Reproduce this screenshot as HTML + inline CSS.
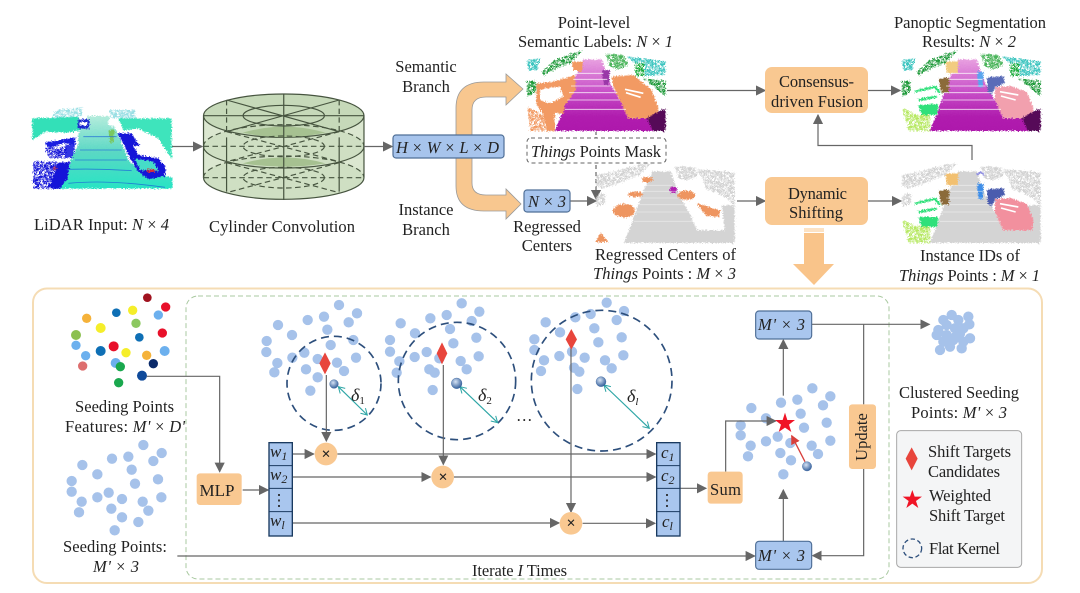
<!DOCTYPE html>
<html><head><meta charset="utf-8"><style>
html,body{margin:0;padding:0;background:#fff}
svg{display:block}
text{font-family:"Liberation Serif",serif;font-size:16.5px;fill:#222}
.i{font-style:italic}
</style></head><body>
<svg width="1080" height="593" viewBox="0 0 1080 593" xmlns="http://www.w3.org/2000/svg">
<defs>
<marker id="a" viewBox="0 0 9 9" refX="8" refY="4.5" markerWidth="8.500" markerHeight="8.500" orient="auto-start-reverse"><path d="M0 0L9 4.500L0 9z" fill="#666"/></marker>
<marker id="t" viewBox="0 0 8 8" refX="7" refY="4" markerWidth="7" markerHeight="7" orient="auto-start-reverse"><path d="M1 .5L7 4L1 7.500" fill="none" stroke="#2ea6a6" stroke-width="1"/></marker>
<marker id="r" viewBox="0 0 9 9" refX="8" refY="4.500" markerWidth="7" markerHeight="7" orient="auto"><path d="M0 0L9 4.500L0 9z" fill="#d8403c"/></marker>
<radialGradient id="b" cx=".4" cy=".35" r=".7"><stop offset="0" stop-color="#d5e2f4"/><stop offset="1" stop-color="#2b5896"/></radialGradient>
<linearGradient id="mg" x1="0" y1="0" x2="0" y2="1"><stop offset="0" stop-color="#e8a0e0"/><stop offset=".45" stop-color="#c850c8"/><stop offset=".8" stop-color="#b01cae"/><stop offset="1" stop-color="#ae18ac"/></linearGradient>
<linearGradient id="lg" x1="0" y1="0" x2="0" y2="1"><stop offset="0" stop-color="#b4ecdc"/><stop offset=".5" stop-color="#5ad8c4"/><stop offset="1" stop-color="#28e4c4"/></linearGradient>
<filter id="j" x="-3%" y="-3%" width="106%" height="106%" color-interpolation-filters="sRGB"><feTurbulence type="fractalNoise" baseFrequency=".25" numOctaves="2" seed="4"/><feDisplacementMap in="SourceGraphic" scale="15" xChannelSelector="R" yChannelSelector="G"/><feGaussianBlur stdDeviation=".9"/></filter>
<filter id="h" x="-3%" y="-3%" width="106%" height="106%" color-interpolation-filters="sRGB"><feTurbulence type="fractalNoise" baseFrequency=".17" numOctaves="2" seed="7"/><feColorMatrix type="matrix" values="0 0 0 0 0  0 0 0 0 0  0 0 0 0 0  -9 0 0 0 5.400" result="m"/><feComposite in="SourceGraphic" in2="m" operator="in"/></filter>
<g id="whitelines" stroke="#fff" stroke-width="2.500" opacity=".85"><path d="M168 70H250M160 88H262M153 108H272M147 128H292M142 150H300M135 178H318"/></g>
<g id="road"><polygon points="105,243 135,165 160,95 190,28 245,28 270,100 300,150 325,205 380,205 437,243"/></g>
<g id="leftgreens" filter="url(#h)"><polygon points="20,95 50,92 48,128 22,142" fill="#1f9a3a"/><polygon points="65,65 105,30 150,12 188,2 150,40 100,60 72,78" fill="#1f9a3a"/><polygon points="20,30 62,24 52,60 24,62" fill="#3ec5c0"/><polygon points="255,10 310,14 326,45 292,60 270,50" fill="#4ab45a"/><polygon points="320,20 437,34 437,75 372,78 345,40" fill="#3ec5c0"/><rect x="345" y="40" width="28" height="38" fill="#14a834"/><polygon points="370,85 437,92 437,140 400,110" fill="#1f9a3a"/></g>
<g id="grayback" fill="#d4d4d4"><polygon points="300,205 437,205 437,243 300,243"/><polygon points="398,130 437,130 437,243 412,243"/></g>
<g id="graytop" fill="#d2d2d2" filter="url(#h)"><polygon points="320,22 437,30 437,130 400,100 350,80 340,45"/><polygon points="255,12 320,16 326,45 292,55 270,50"/><polygon points="20,40 70,28 150,8 188,4 150,40 100,60 40,80 22,70"/><polygon points="20,100 50,92 48,128 22,132"/></g>
</defs>

<!-- LiDAR image -->
<g transform="translate(25,100) scale(.3333)">
<g filter="url(#j)">
<polygon points="22,55 160,50 170,90 110,100 40,110 22,120" fill="#33e0b8"/>
<polygon points="280,55 440,55 440,180 380,110 300,100" fill="#3ee4bc"/>
<g filter="url(#h)"><polygon points="90,30 170,22 170,50 80,55" fill="#9adfe4"/><polygon points="255,30 330,30 335,55 255,55" fill="#9adfe4"/></g>
<polygon points="100,266 135,190 165,90 190,48 250,48 280,100 310,180 340,210 442,232 442,266" fill="url(#lg)"/>
<polygon points="25,120 60,95 160,100 160,135 135,180 100,210 60,190 22,190" fill="#fff"/>
<polygon points="275,95 340,85 400,115 442,180 432,205 340,170 300,150" fill="#fff"/>
<polygon points="60,128 150,112 152,135 115,130 70,145" fill="#1a1ee0"/>
<polygon points="120,135 150,130 145,172 120,175" fill="#1a1ee0" opacity=".9"/>
<polygon points="95,190 135,185 128,235 105,266 75,266" fill="#1515d8"/>
<g filter="url(#h)"><polygon points="24,185 100,185 100,266 24,266" fill="#1515d8"/><polygon points="60,145 125,140 120,175 75,175" fill="#1515d8"/></g>
<polygon points="277,100 320,100 345,140 400,175 422,200 420,228 370,238 340,215 315,175 298,135" fill="#1515d8"/>
<polygon points="325,135 385,150 400,175 340,165" fill="#fff"/><polygon points="328,175 385,185 402,214 345,210" fill="#46dcc8"/>
<rect x="158" y="58" width="35" height="28" fill="#1c2ad0"/><rect x="165" y="66" width="22" height="10" fill="#fff"/>
<rect x="366" y="208" width="24" height="9" fill="#d82a3a"/><rect x="84" y="200" width="10" height="8" fill="#c8405a"/>
<polygon points="250,90 270,90 265,128 255,128" fill="#7ac860"/><circle cx="260" cy="68" r="12" fill="#fff"/>
</g>
<g stroke="#1d66d8" stroke-width="2.500" fill="none" opacity=".8"><path d="M130 250Q250 238 420 262M125 208Q220 205 320 212M150 180H305M165 150H290M175 110H275"/></g>
</g>

<!-- Cylinder -->
<g transform="scale(.34435,.33333)" stroke-width="3.500" fill="none">
<path d="M591 533A233 65 0 0 0 1057 533L1057 347H591z" fill="#dbe7d0"/>
<ellipse cx="824" cy="533" rx="233" ry="65" fill="#cfdfc3" stroke="none"/>
<ellipse cx="824" cy="439" rx="233" ry="65" fill="#cfdfc3" stroke="none"/>
<path d="M705 490Q824 455 945 490Q824 510 705 490z" fill="#a6c191"/>
<ellipse cx="824" cy="347" rx="233" ry="65" fill="#c6d9b9" stroke="#46543f"/>
<path d="M705 398Q824 362 945 398Q824 425 705 398z" fill="#a6c191"/>
<g stroke="#46543f">
<path d="M591 347V533M1057 347V533M658 412V575M985 412V575M824 412V600"/>
<path d="M591 533A233 65 0 0 0 1057 533M591 439A233 65 0 0 0 1057 439"/>
<ellipse cx="824" cy="347" rx="118" ry="31"/>
<path d="M658 300L985 395M985 300L658 395M591 347H1057M824 282V412" />
<g stroke-dasharray="16 10"><path d="M658 300V400M985 300V400"/>
<path d="M591 439A233 65 0 0 1 1057 439M591 533A233 65 0 0 1 1057 533M591 439H1057M591 533H1057M658 395L985 485M985 395L658 485M658 488L985 578M985 488L658 578"/>
<ellipse cx="824" cy="439" rx="118" ry="31"/><ellipse cx="824" cy="533" rx="118" ry="31"/></g>
</g>
</g>

<!-- Orange branch arrow -->
<path d="M523 89L506 74V82H484Q456 82 456 108V186Q456 211 484 211H506V219L521 204L506 189V195H486Q472 195 472 183V110Q472 97 486 97H506V105z" fill="#f8c78f" stroke="#9a9a9a" stroke-width=".8"/>
<rect x="393" y="135" width="111" height="23" rx="3" fill="#a7c4ec" stroke="#4f6f97" stroke-width="1.200"/>
<text class="i" x="396" y="153" textLength="103">H <tspan font-style="normal">×</tspan> W <tspan font-style="normal">×</tspan> L <tspan font-style="normal">×</tspan> D</text>

<g stroke="#666" stroke-width="1.200" fill="none">
<path d="M172 146.500H202" marker-end="url(#a)"/>
<path d="M364 146.500H392" marker-end="url(#a)"/>
<path d="M667 90.500H765" marker-end="url(#a)"/>
<path d="M868 90.500H900" marker-end="url(#a)"/>
<path d="M868 201H901" marker-end="url(#a)"/>
<path d="M737 201H765" marker-end="url(#a)"/>
<path d="M570 201H596" marker-end="url(#a)"/>
<path d="M972 160V145.500H818V115" marker-end="url(#a)"/>
<path d="M596 165V199" stroke-dasharray="4 3" marker-end="url(#a)"/>
<path d="M596 132V138" stroke-dasharray="3 2"/>
</g>

<!-- Semantic -->
<g transform="translate(520,50) scale(.3333)">
<g filter="url(#j)">
<use href="#road" fill="url(#mg)"/>
<use href="#leftgreens"/>
<polygon points="50,100 100,95 165,75 168,120 135,165 130,190 105,190 105,243 80,243 70,195 48,160" fill="#f29a63"/>
<polygon points="60,118 120,110 130,140 90,160 60,150" fill="#fff"/>
<g filter="url(#h)"><polygon points="22,170 70,195 78,243 30,243" fill="#f29a63"/></g>
<polygon points="155,35 190,35 185,65 160,60" fill="#f29a63"/>
<polygon points="275,80 340,75 395,120 415,175 410,205 325,205 300,150 280,110" fill="#f29a63"/>
<polygon points="380,205 415,185 437,175 437,243 400,243" fill="#560a58"/>
<polygon points="246,62 270,60 266,105 252,105" fill="#9a38a8"/>
</g>
<use href="#whitelines"/>
<path d="M315 118L370 130M318 128L362 142" stroke="#fff" stroke-width="5"/>
</g>

<!-- Panoptic -->
<g transform="translate(895,50) scale(.3333)">
<g filter="url(#j)">
<use href="#road" fill="url(#mg)"/>
<use href="#leftgreens"/>
<polygon points="46,100 100,95 140,85 140,140 120,165 130,195 70,195 48,160" fill="#fff"/>
<path d="M60 125L120 110L135 130M70 150L125 140M71 170L130 165" stroke="#2fe07a" stroke-width="7" fill="none"/>
<polygon points="71,165 131,165 125,195 80,195" fill="#2fe07a"/>
<g filter="url(#h)"><polygon points="22,175 70,195 106,195 106,243 40,243" fill="#b5e860"/></g>
<polygon points="131,85 164,82 162,128 140,130" fill="#8b6a3a"/>
<polygon points="151,35 191,33 188,70 156,70" fill="#f2cc80"/>
<polygon points="247,65 265,65 264,112 250,110" fill="#5aa5ee"/>
<polygon points="276,82 325,78 330,100 300,112 290,135 278,125" fill="#5a6cb8"/>
<polygon points="300,112 345,108 395,125 415,175 412,205 325,205 300,150" fill="#f2a0ae"/>
<polygon points="380,205 415,185 437,175 437,243 400,243" fill="#560a58"/>
</g>
<use href="#whitelines"/>
<path d="M315 125L370 135M318 138L362 150" stroke="#fff" stroke-width="5"/>
</g>

<!-- Regressed -->
<g transform="translate(589,162) scale(.3333)">
<g filter="url(#j)">
<use href="#grayback"/>
<use href="#graytop"/>
<use href="#road" fill="#d4d4d4"/>
<g fill="#ee9560">
<ellipse cx="105" cy="146" rx="33" ry="20"/><ellipse cx="140" cy="97" rx="22" ry="8"/><ellipse cx="175" cy="53" rx="17" ry="8"/><ellipse cx="292" cy="100" rx="26" ry="14"/><polygon points="323,124 395,146 390,165 350,160"/><polygon points="18,240 35,212 58,240"/>
</g>
<ellipse cx="253" cy="84" rx="11" ry="10" fill="#b020b0"/>
</g>
<use href="#whitelines" opacity=".5"/>
</g>

<!-- Instance -->
<g transform="translate(895,162) scale(.3333)">
<g filter="url(#j)">
<use href="#grayback"/>
<use href="#graytop"/>
<use href="#road" fill="#d4d4d4"/>
<path d="M60 125L120 110L135 130M70 150L125 140" stroke="#2fe07a" stroke-width="7" fill="none"/>
<polygon points="71,165 131,165 125,195 80,195" fill="#2fe07a"/>
<g filter="url(#h)"><polygon points="22,175 60,190 106,195 106,243 40,243" fill="#b5e860"/></g>
<polygon points="131,85 164,82 162,128 140,130" fill="#8b6a3a"/>
<polygon points="151,35 191,33 188,70 156,70" fill="#f2c070"/>
<polygon points="247,65 265,65 264,112 250,110" fill="#3f8ee8"/>
<path d="M246 40Q258 22 268 42" stroke="#8f8ee0" stroke-width="5" fill="none"/>
<polygon points="276,82 325,78 330,100 300,112 290,135 278,125" fill="#4a5cae"/>
<polygon points="300,112 345,108 395,125 415,175 412,205 325,205 300,150" fill="#f2909e"/>
</g>
<use href="#whitelines" opacity=".6"/>
<path d="M315 125L370 135M318 138L362 150" stroke="#fff" stroke-width="5"/>
</g>

<!-- Top boxes -->
<rect x="527" y="138" width="139" height="25" rx="4" fill="#fff" stroke="#666" stroke-width="1" stroke-dasharray="4 3"/>
<rect x="524" y="190" width="46" height="22" rx="3" fill="#a7c4ec" stroke="#4f6f97" stroke-width="1.200"/>
<rect x="765" y="67" width="103" height="46" rx="7" fill="#f9c891"/>
<rect x="765" y="177" width="103" height="48" rx="7" fill="#f9c891"/>
<path d="M804 233H824V264H834L814 285L793 264H804z" fill="#f9c48a"/>
<path d="M804 229H824M804 231H824" stroke="#f9c48a" stroke-width="1"/>

<text x="34" y="230" textLength="135">LiDAR Input: <tspan class="i">N</tspan> × <tspan class="i">4</tspan></text>
<text x="209" y="232" textLength="146">Cylinder Convolution</text>
<text x="426" y="72" text-anchor="middle">Semantic</text><text x="426" y="92" text-anchor="middle">Branch</text>
<text x="426" y="215" text-anchor="middle">Instance</text><text x="426" y="235" text-anchor="middle">Branch</text>
<text x="594" y="28" text-anchor="middle">Point-level</text>
<text x="518" y="47" textLength="155">Semantic Labels: <tspan class="i">N</tspan> × <tspan class="i">1</tspan></text>
<text x="894" y="28" textLength="152">Panoptic Segmentation</text>
<text x="922" y="47" textLength="94">Results: <tspan class="i">N</tspan> × <tspan class="i">2</tspan></text>
<text x="531" y="157" textLength="130"><tspan class="i">Things</tspan> Points Mask</text>
<text x="528" y="207" textLength="38" class="i">N <tspan font-style="normal">×</tspan> 3</text>
<text x="547" y="232" text-anchor="middle">Regressed</text><text x="547" y="251" text-anchor="middle">Centers</text>
<text x="595" y="260" textLength="141">Regressed Centers of</text>
<text x="593" y="279" textLength="143"><tspan class="i">Things</tspan> Points : <tspan class="i">M</tspan> × <tspan class="i">3</tspan></text>
<text x="920" y="261" textLength="100">Instance IDs of</text>
<text x="899" y="281" textLength="141"><tspan class="i">Things</tspan> Points : <tspan class="i">M</tspan> × <tspan class="i">1</tspan></text>
<text x="779" y="87" textLength="75">Consensus-</text><text x="771" y="107" textLength="92">driven Fusion</text>
<text x="788" y="199" textLength="59">Dynamic</text><text x="789" y="218" textLength="54">Shifting</text>

<!-- Lower panel -->
<rect x="33" y="288.500" width="1009" height="294.500" rx="14" fill="#fff" stroke="#f5dcb4" stroke-width="2"/>
<rect x="186" y="296" width="703" height="283" rx="12" fill="none" stroke="#a9c9a0" stroke-width="1" stroke-dasharray="5 3"/>

<g transform="translate(30,285) scale(.33333)">
<g>
<circle cx="352" cy="38" r="13" fill="#a0121f"/><circle cx="407" cy="66" r="14" fill="#e8102a"/><circle cx="308" cy="76" r="14" fill="#f5ee2a"/><circle cx="259" cy="83" r="13" fill="#0e6fb5"/><circle cx="385" cy="90" r="14" fill="#6cb0ee"/><circle cx="170" cy="100" r="14" fill="#f5b23a"/><circle cx="318" cy="115" r="14" fill="#8cc860"/><circle cx="212" cy="129" r="15" fill="#f5ee2a"/><circle cx="397" cy="144" r="14" fill="#e8102a"/><circle cx="138" cy="150" r="15" fill="#8cc050"/><circle cx="328" cy="157" r="13" fill="#0e6fb5"/><circle cx="138" cy="181" r="14" fill="#6cb0ee"/><circle cx="251" cy="184" r="15" fill="#e8102a"/><circle cx="212" cy="198" r="15" fill="#0e6fb5"/><circle cx="288" cy="203" r="14" fill="#f5ee2a"/><circle cx="404" cy="198" r="15" fill="#6cb0ee"/><circle cx="167" cy="212" r="14" fill="#6cb0ee"/><circle cx="350" cy="211" r="14" fill="#f5b23a"/><circle cx="370" cy="236" r="14" fill="#0b2a6a"/><circle cx="257" cy="234" r="15" fill="#6cb0ee"/><circle cx="271" cy="245" r="14" fill="#1aa84e"/><circle cx="158" cy="243" r="14" fill="#dd6e6e"/><circle cx="336" cy="272" r="15" fill="#0f4a9a"/><circle cx="266" cy="293" r="14" fill="#1aa84e"/>
</g>
<g stroke="#a6c2ea" stroke-width="31" stroke-linecap="round" fill="none">
<path d="M927 60h.1M981 85h.1M882 95h.1M833 105h.1M744 120h.1M956 112h.1M892 134h.1M786 150h.1M710 168h.1M970 165h.1M902 180h.1M709 201h.1M823 203h.1M787 218h.1M978 218h.1M863 222h.1M921 233h.1M742 234h.1M828 253h.1M942 258h.1M733 262h.1M863 277h.1M841 317h.1"/>
<path d="M1295 55h.1M1348 80h.1M1250 90h.1M1201 100h.1M1112 115h.1M1325 108h.1M1260 132h.1M1155 145h.1M1080 165h.1M1339 158h.1M1270 175h.1M1080 200h.1M1190 201h.1M1154 216h.1M1346 214h.1M1228 220h.1M1292 228h.1M1108 229h.1M1198 253h.1M1310 253h.1M1100 263h.1M1214 263h.1M1208 315h.1"/>
<path d="M340 480h.1M395 504h.1M295 515h.1M246 521h.1M157 540h.1M370 528h.1M305 554h.1M202 568h.1M125 588h.1M384 583h.1M315 596h.1M125 620h.1M236 623h.1M202 637h.1M394 637h.1M276 642h.1M338 650h.1M155 650h.1M244 671h.1M355 677h.1M147 682h.1M276 697h.1M325 711h.1M254 736h.1"/>
<path d="M1730 53h.1M1782 78h.1M1682 87h.1M1636 97h.1M1547 112h.1M1760 105h.1M1693 130h.1M1590 142h.1M1513 163h.1M1775 157h.1M1705 172h.1M1513 195h.1M1626 200h.1M1588 213h.1M1780 211h.1M1664 218h.1M1725 226h.1M1542 226h.1M1632 248h.1M1745 250h.1M1533 258h.1M1648 260h.1M1642 312h.1"/>
<path d="M2347 310h.1M2401 334h.1M2302 344h.1M2253 353h.1M2164 369h.1M2379 361h.1M2312 386h.1M2208 400h.1M2132 421h.1M2390 413h.1M2322 428h.1M2132 451h.1M2243 455h.1M2208 469h.1M2401 467h.1M2281 474h.1M2345 482h.1M2162 482h.1M2251 504h.1M2364 507h.1M2154 514h.1M2283 526h.1M2260 568h.1"/>
<path d="M2765 90h.1M2740 105h.1M2785 105h.1M2815 95h.1M2818 118h.1M2750 120h.1M2725 135h.1M2775 130h.1M2800 130h.1M2720 150h.1M2750 150h.1M2780 150h.1M2820 160h.1M2740 170h.1M2770 165h.1M2800 170h.1M2730 195h.1M2760 185h.1M2795 190h.1M2790 145h.1"/>
</g>

<g fill="none" stroke="#2d4f7c" stroke-width="5" stroke-dasharray="24 15">
<circle cx="912" cy="295" r="141"/><circle cx="1281" cy="288" r="176"/><circle cx="1715" cy="287" r="211"/>
</g>

<g stroke="#666" stroke-width="3.600" fill="none">
<path d="M350 274H569V560" marker-end="url(#a)"/>
<path d="M638 615H714" marker-end="url(#a)"/>
<path d="M787 507H851" marker-end="url(#a)"/>
<path d="M787 576H1201" marker-end="url(#a)"/>
<path d="M787 714H1587" marker-end="url(#a)"/>
<path d="M922 507H1876" marker-end="url(#a)"/>
<path d="M1272 576H1876" marker-end="url(#a)"/>
<path d="M1658 715H1875" marker-end="url(#a)"/>
<path d="M442 813H2174" marker-end="url(#a)"/>
<path d="M889 270V468" marker-end="url(#a)"/>
<path d="M1240 240V538" marker-end="url(#a)"/>
<path d="M1623 190V681" marker-end="url(#a)"/>
<path d="M1950 610H2028" marker-end="url(#a)"/>
<path d="M2087 560V408H2237" marker-end="url(#a)"/>
<path d="M2260 769V615" marker-end="url(#a)"/>
<path d="M2260 332V165" marker-end="url(#a)"/>
<path d="M2345 118H2698" marker-end="url(#a)"/>
<path d="M2501 118V358"/>
<path d="M2501 552V812H2348" marker-end="url(#a)"/>
</g>

<g stroke="#2ea6a6" stroke-width="3.500" fill="none">
<path d="M925 305L1012 390" marker-start="url(#t)" marker-end="url(#t)"/>
<path d="M1290 305L1403 413" marker-start="url(#t)" marker-end="url(#t)"/>
<path d="M1722 300L1858 430" marker-start="url(#t)" marker-end="url(#t)"/>
</g>
<path d="M2325 530L2285 452" stroke="#d8403c" stroke-width="4" fill="none" marker-end="url(#r)"/>

<g fill="#e8453c">
<polygon points="885,202 902,235 885,268 868,235"/>
<polygon points="1236,172 1252,205 1236,238 1220,205"/>
<polygon points="1624,132 1641,163 1624,194 1607,163"/>
</g>
<polygon points="2265,383 2272,405 2295,405 2277,419 2284,441 2265,428 2246,441 2253,419 2235,405 2258,405" fill="#f01426"/>
<g fill="url(#b)" stroke="#2b5896" stroke-width="1">
<circle cx="912" cy="297" r="13"/><circle cx="1280" cy="295" r="16"/><circle cx="1713" cy="290" r="15"/><circle cx="2331" cy="544" r="14"/>
</g>

<g fill="#f9c891">
<rect x="500" y="565" width="135" height="95" rx="10"/>
<circle cx="888" cy="507" r="34"/><circle cx="1238" cy="576" r="34"/><circle cx="1623" cy="715" r="34"/>
<rect x="2033" y="560" width="105" height="96" rx="10"/>
<rect x="2457" y="358" width="81" height="194" rx="10"/>
</g>
<g fill="#a9c6ee" stroke="#1a3a60" stroke-width="4">
<rect x="717" y="473" width="70" height="280"/><rect x="1880" y="473" width="70" height="280"/>
</g>
<path d="M717 542H787M717 610H787M717 680H787M1880 542H1950M1880 610H1950M1880 680H1950" stroke="#1a3a60" stroke-width="3"/>
<g fill="#a9c6ee" stroke="#4f6f97" stroke-width="3.500">
<rect x="2177" y="78" width="168" height="84" rx="10"/><rect x="2177" y="769" width="168" height="84" rx="10"/>
</g>
<rect x="2600" y="437" width="375" height="410" rx="12" fill="#f4f5f6" stroke="#a8a8a8" stroke-width="3"/>
<polygon points="2645,487 2663,521 2645,556 2627,521" fill="#e8453c"/>
<polygon points="2647,615 2654,635 2676,635 2658,648 2665,669 2647,656 2629,669 2636,648 2618,635 2640,635" fill="#f01426"/>
<circle cx="2647" cy="790" r="28" fill="none" stroke="#2d4f7c" stroke-width="4" stroke-dasharray="13 8"/>
</g>

<text x="75" y="412" textLength="99">Seeding Points</text>
<text x="65" y="432" textLength="120">Features: <tspan class="i">M' </tspan> × <tspan class="i">D'</tspan></text>
<text x="63" y="552" textLength="104">Seeding Points:</text>
<text x="93" y="572" textLength="46" class="i">M' <tspan font-style="normal">×</tspan> 3</text>
<text x="217" y="496" text-anchor="middle" style="font-size:17px">MLP</text>
<text x="270" y="457" class="i" style="font-size:17px">w<tspan dy="3" style="font-size:12px">1</tspan></text>
<text x="270" y="480" class="i" style="font-size:17px">w<tspan dy="3" style="font-size:12px">2</tspan></text>
<text x="279" y="506" text-anchor="middle">⋮</text>
<text x="270" y="526" class="i" style="font-size:17px">w<tspan dy="3" style="font-size:12px">l</tspan></text>
<text x="661" y="458" class="i" style="font-size:17px">c<tspan dy="3" style="font-size:12px">1</tspan></text>
<text x="661" y="481" class="i" style="font-size:17px">c<tspan dy="3" style="font-size:12px">2</tspan></text>
<text x="667" y="506" text-anchor="middle">⋮</text>
<text x="662" y="527" class="i" style="font-size:17px">c<tspan dy="3" style="font-size:12px">l</tspan></text>
<text x="710" y="495" textLength="31">Sum</text>
<text x="758" y="330" textLength="47" class="i">M' <tspan font-style="normal">×</tspan> 3</text>
<text x="758" y="561" textLength="47" class="i">M' <tspan font-style="normal">×</tspan> 3</text>
<text transform="translate(867,437) rotate(-90)" text-anchor="middle">Update</text>
<text x="899" y="398" textLength="120">Clustered Seeding</text>
<text x="911" y="418" textLength="96">Points: <tspan class="i">M' </tspan>× <tspan class="i">3</tspan></text>
<text x="928" y="457" textLength="83">Shift Targets</text>
<text x="928" y="477" textLength="72">Candidates</text>
<text x="929" y="501" textLength="62">Weighted</text>
<text x="929" y="521" textLength="76">Shift Target</text>
<text x="929" y="554" textLength="71">Flat Kernel</text>
<text x="472" y="576" textLength="95">Iterate <tspan class="i">I</tspan> Times</text>
<text x="516" y="421">…</text>
<text x="351" y="401" class="i" style="font-size:18px">δ<tspan dy="3" font-style="normal" style="font-size:11px">1</tspan></text>
<text x="478" y="401" class="i" style="font-size:18px">δ<tspan dy="3" font-style="normal" style="font-size:11px">2</tspan></text>
<text x="627" y="402" class="i" style="font-size:18px">δ<tspan dy="3" style="font-size:11px">l</tspan></text>
<text x="326" y="459" style="font-size:16px;font-weight:bold" text-anchor="middle">×</text>
<text x="443" y="482" style="font-size:16px;font-weight:bold" text-anchor="middle">×</text>
<text x="571" y="528" style="font-size:16px;font-weight:bold" text-anchor="middle">×</text>
</svg>
</body></html>
